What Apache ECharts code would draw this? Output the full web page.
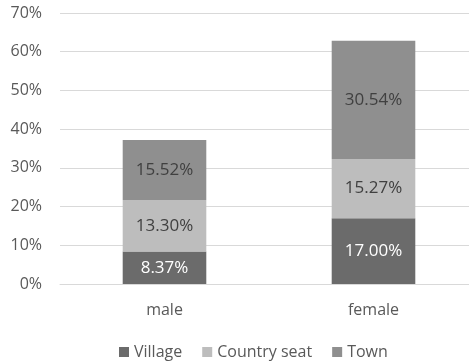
<!DOCTYPE html>
<html><head><meta charset="utf-8">
<script src="https://cdn.jsdelivr.net/npm/echarts@6/dist/echarts.min.js"></script>
<style>html,body{margin:0;padding:0;background:#fff;overflow:hidden;width:469px;height:361px}#c{width:478px;height:361px}</style>
</head><body><div id="c"></div>
<script>
var categories = ['male', 'female'];
var village = [8.37, 17.00];
var countrySeat = [13.30, 15.27];
var town = [15.52, 30.54];
var yTicks = [0, 10, 20, 30, 40, 50, 60, 70];

var font = '"Open Sans", "Noto Sans", sans-serif';
var chart = echarts.init(document.getElementById('c'));
function mk(name, data, color, labelColor) {
  return {
    name: name, type: 'bar', stack: 'all', data: data, barWidth: '40%',
    itemStyle: { color: color },
    label: { show: true, position: 'inside', formatter: function (p) { return p.value.toFixed(2) + '%'; },
      color: labelColor, fontSize: 17, fontFamily: font },
    emphasis: { disabled: true }
  };
}
chart.setOption({
  animation: false,
  textStyle: { fontFamily: font },
  grid: { left: 60, right: 0, top: 13, bottom: 77, containLabel: false },
  legend: {
    top: 339, left: 114, itemWidth: 10, itemHeight: 10, itemGap: 20,
    icon: 'rect', textStyle: { color: '#595959', fontSize: 16, fontFamily: font },
    data: ['Village', 'Country seat', 'Town']
  },
  xAxis: {
    type: 'category', data: categories,
    axisLine: { show: true, lineStyle: { color: '#d9d9d9' } },
    axisTick: { show: false },
    axisLabel: { color: '#595959', fontSize: 16, margin: 18, fontFamily: font }
  },
  yAxis: {
    type: 'value', min: yTicks[0], max: yTicks[yTicks.length - 1], interval: 10,
    axisLabel: { color: '#595959', fontSize: 16, margin: 18, formatter: '{value}%', fontFamily: font },
    splitLine: { lineStyle: { color: '#d9d9d9' } },
    axisLine: { show: false }, axisTick: { show: false }
  },
  series: [
    mk('Village', village, '#6b6b6b', '#ffffff'),
    mk('Country seat', countrySeat, '#bdbdbd', '#404040'),
    mk('Town', town, '#8f8f8f', '#404040')
  ]
});
</script></body></html>
